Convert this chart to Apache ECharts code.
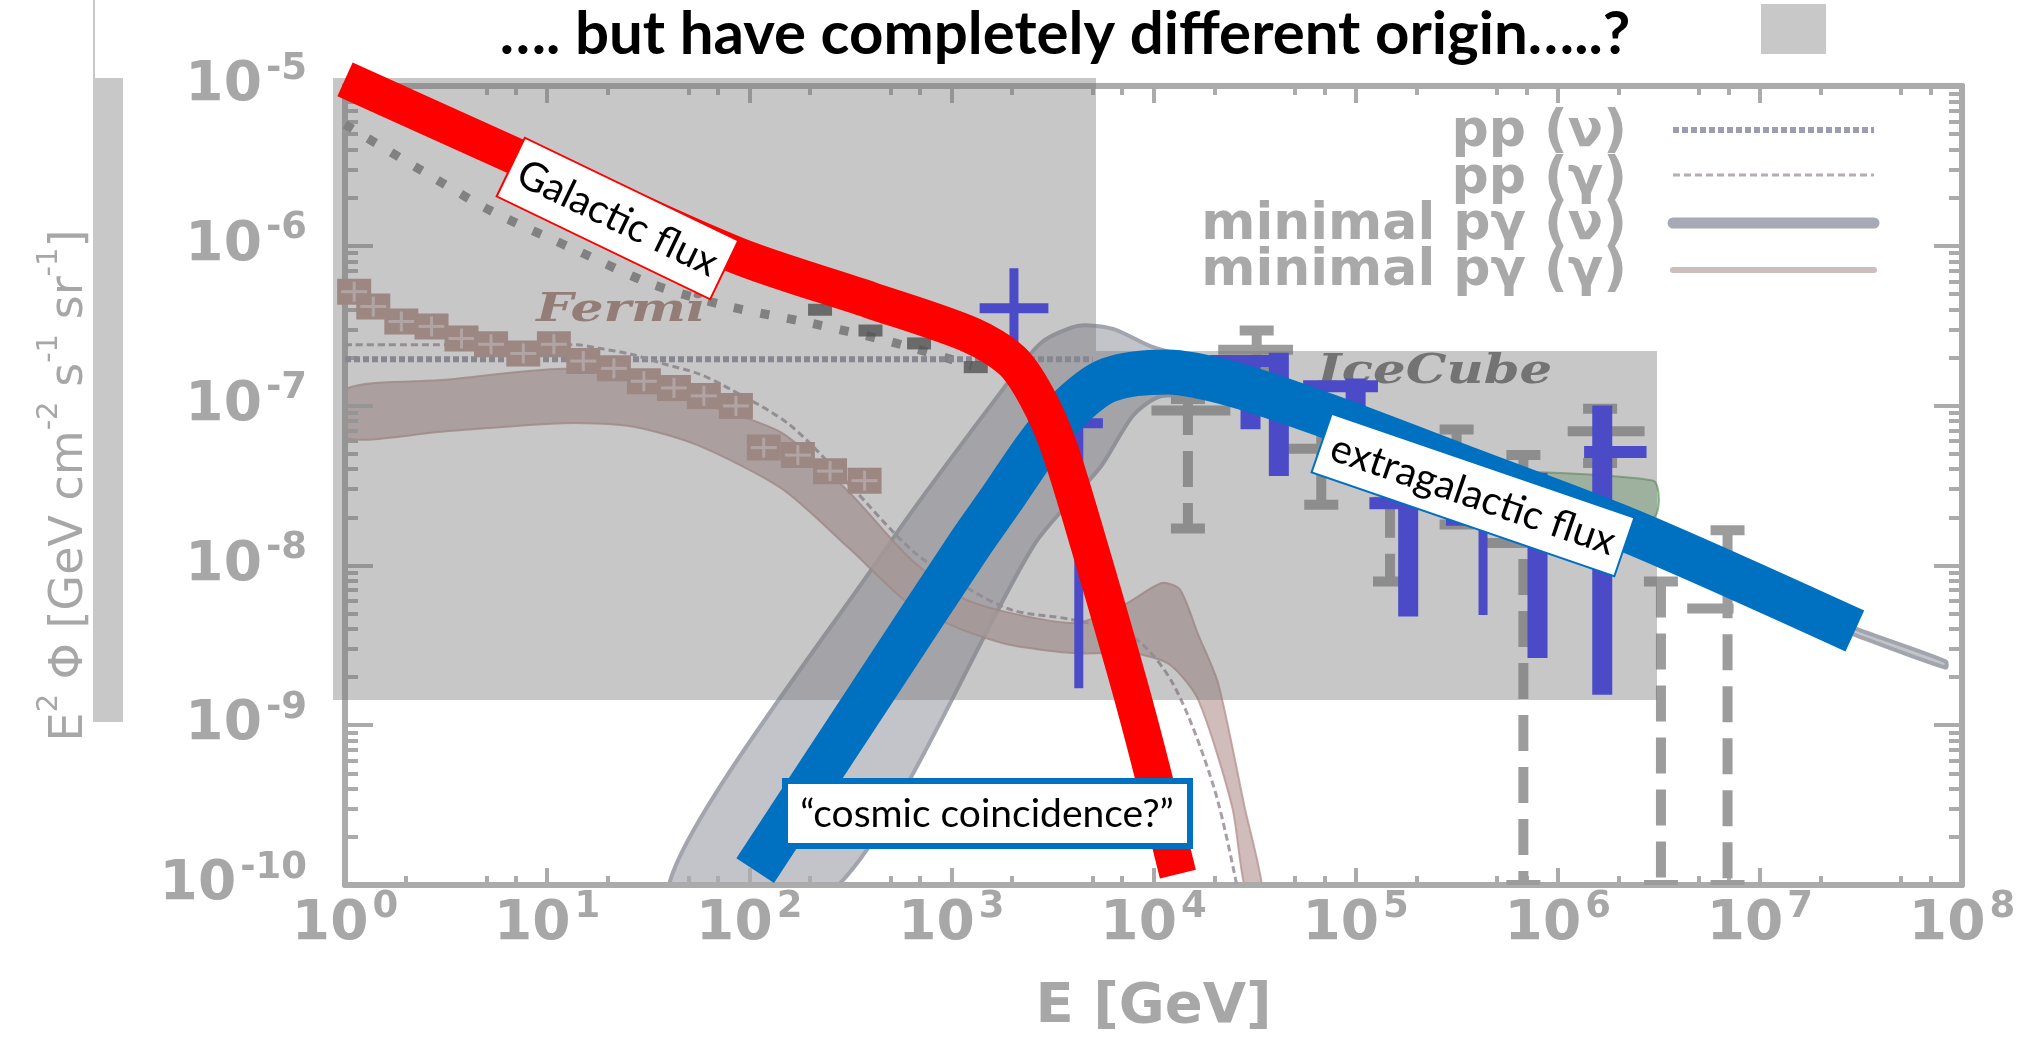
<!DOCTYPE html>
<html><head><meta charset="utf-8">
<script src="https://cdn.jsdelivr.net/npm/echarts@6/dist/echarts.min.js"></script>
<style>html,body{margin:0;padding:0;background:#fff}#c{width:2033px;height:1040px}</style>
</head><body><div id="c"></div>
<script>
// ================= DATA =================
const titleText = '…. but have completely different origin…..?';
const xTickValues = [1, 10, 100, 1e3, 1e4, 1e5, 1e6, 1e7, 1e8];
const yTickValues = [1e-10, 1e-9, 1e-8, 1e-7, 1e-6, 1e-5];
const xMinorMantissas = [2, 5, 7];
const yMinorMantissas = [2, 3, 4, 5, 6, 7, 8, 9];
const legendNames = ['pp (ν)', 'pp (γ)', 'minimal pγ (ν)', 'minimal pγ (γ)'];

// thick highlight bands [E (GeV), E^2 Phi]
const galacticFlux = [[1, 1.1e-5], [10, 2.95e-6], [87, 8.7e-7], [398, 4.57e-7], [1260, 2.75e-7], [2000, 1.9e-7],
  [2630, 1.15e-7], [3390, 5.6e-8], [4790, 1.35e-8], [8320, 1.17e-9], [13200, 1.17e-10]];
const extragalacticFlux = [[107, 1.23e-10], [398, 1.55e-9], [1230, 1.35e-8], [1780, 2.63e-8], [2690, 5.62e-8],
  [3980, 1.0e-7], [6030, 1.45e-7], [11700, 1.62e-7], [25100, 1.35e-7], [70800, 8.7e-8], [3.47e5, 4.07e-8],
  [2.34e6, 1.62e-8], [2.95e7, 3.89e-9]];

// minimal p-gamma (nu) band
const pgNuUpper = [[39.8, 9.5e-11], [490, 1.35e-8], [2000, 1.51e-7], [2820, 2.51e-7], [4270, 3.16e-7], [6310, 3.02e-7],
  [9770, 2.34e-7], [25100, 1.66e-7], [1.0e5, 7.94e-8], [1.0e6, 2.51e-8], [1.0e7, 7.08e-9], [2.75e7, 4.17e-9], [8.3e7, 2.51e-9]];
const pgNuLower = [[265, 9.5e-11], [2570, 1.35e-8], [5500, 4.17e-8], [7940, 8.7e-8], [11000, 1.15e-7], [25100, 1.05e-7],
  [70800, 6.6e-8], [3.16e5, 3.31e-8], [3.16e6, 1.07e-8], [2.75e7, 3.8e-9], [8.3e7, 2.29e-9]];
// minimal p-gamma (gamma) band
const pgGammaUpper = [[1, 1.26e-7], [3.16, 1.45e-7], [12, 1.7e-7], [26.3, 1.48e-7], [56.2, 1.05e-7], [145, 6.76e-8],
  [316, 2.82e-8], [617, 1.12e-8], [1120, 6.31e-9], [2000, 5.01e-9], [4170, 4.37e-9], [7080, 5.62e-9], [11000, 7.76e-9],
  [13500, 7.08e-9], [16600, 3.72e-9], [20900, 1.82e-9], [28200, 3.09e-10], [34700, 8.9e-11]];
const pgGammaLower = [[1, 6.31e-8], [3.16, 6.92e-8], [12, 7.76e-8], [26.3, 7.41e-8], [56.2, 5.62e-8], [145, 3.02e-8],
  [316, 1.26e-8], [617, 5.75e-9], [1120, 3.98e-9], [2000, 3.16e-9], [4170, 2.82e-9], [7940, 2.82e-9], [12000, 2.4e-9],
  [16600, 1.45e-9], [24500, 3.09e-10], [28800, 8.9e-11]];

// pp curves
const ppNuSteep = [[1, 5.75e-6], [2.4, 2.95e-6], [5.25, 1.66e-6], [14.1, 9.33e-7], [33.1, 5.75e-7], [79.4, 4.17e-7],
  [195, 3.31e-7], [501, 2.51e-7], [1260, 1.78e-7]];
const ppNuFlat = [[1, 1.95e-7], [5000, 1.95e-7]];
const ppGamma = [[1, 2.4e-7], [14.1, 2.4e-7], [17.8, 2.29e-7], [26.3, 2.09e-7], [38, 1.82e-7], [56.2, 1.58e-7],
  [81.3, 1.26e-7], [158, 7.6e-8], [316, 3.16e-8], [631, 1.26e-8], [1120, 7.6e-9], [2000, 5.25e-9], [3980, 4.57e-9],
  [7940, 3.55e-9], [12600, 1.78e-9], [20000, 4.0e-10], [26300, 8.9e-11]];

// Fermi diffuse gamma points
const fermiPoints = [[1.11, 5.16e-7], [1.38, 4.17e-7], [1.9, 3.36e-7], [2.68, 3.13e-7], [3.77, 2.63e-7], [5.28, 2.42e-7],
  [7.62, 2.12e-7], [10.8, 2.42e-7], [15.1, 1.9e-7], [21.4, 1.71e-7], [30.1, 1.42e-7], [42.4, 1.29e-7], [59.6, 1.15e-7],
  [85.9, 9.95e-8], [118, 5.46e-8], [174, 4.9e-8], [251, 3.89e-8], [372, 3.39e-8]];
const darkPoints = [[224, 3.98e-7], [398, 2.95e-7], [692, 2.45e-7], [1320, 1.74e-7]];

// IceCube: [E, flux, fluxLow, fluxHigh, Elow, Ehigh]
const icecubeBlueThin = [[2040, 4.07e-7, 2.04e-7, 7.24e-7, 1380, 3020], [4270, 7.76e-8, 1.7e-9, 1.32e-7, 3390, 5620],
  [4.27e5, 1.9e-8, 4.9e-9, 2.5e-8, 2.8e5, 6.3e5]];
const icecubeBlueThick = [[4.17e4, 1.9e-7, 3.63e-8, 2.14e-7, 1.9e4, 4.57e4], [3.02e4, 1.1e-7, 7.1e-8, 1.78e-7, 3.02e4, 3.02e4],
  [1.0e5, 1.32e-7, 7.94e-8, 1.48e-7, 5.5e4, 1.29e5], [1.82e5, 2.45e-8, 4.79e-9, 2.6e-8, 1.17e5, 2.4e5],
  [7.94e5, 3.8e-8, 2.63e-9, 3.8e-8, 7.94e5, 7.94e5], [1.66e6, 5.13e-8, 1.55e-9, 1.0e-7, 1.35e6, 2.75e6]];
const icecubeGrey = [[14800, 9.33e-8, 1.7e-8, 1.1e-7, 9770, 24000], [32400, 2.24e-7, 1.7e-7, 2.95e-7, 20900, 49000],
  [67600, 5.37e-8, 2.4e-8, 7.94e-8, 45700, 67600], [1.48e5, 2.5e-8, 7.94e-9, 2.5e-8, 1.48e5, 1.48e5],
  [3.16e5, 3.5e-8, 1.8e-8, 7.08e-8, 2.2e5, 4.3e5], [1.62e6, 6.92e-8, 4.37e-8, 9.55e-8, 1.12e6, 2.69e6],
  [6.76e5, 1.38e-8, 1e-10, 4.9e-8, 4.27e5, 7.08e5], [3.24e6, 7.94e-9, 1e-10, 7.94e-9, 3.24e6, 3.24e6],
  [6.92e6, 5.37e-9, 1e-10, 1.66e-8, 4.37e6, 7.41e6]];
const greenUpper = [[75900, 4.0e-8], [2.95e6, 3.4e-8]];
const greenLower = [[75900, 3.55e-8], [2.95e6, 2.0e-8]];

// ================= STYLE / BUILD =================
const AX = '#ababab', LAB = '#a7a7a7';
const xMinor = [], yMinor = [];
for (let d = 0; d < 8; d++) xMinorMantissas.forEach(m => xMinor.push(m * Math.pow(10, d)));
for (let d = -10; d < -5; d++) yMinorMantissas.forEach(m => yMinor.push(m * Math.pow(10, d)));

const expFmt = v => '{b|10}{s|' + Math.round(Math.log10(v)) + '}';
const richLab = {
  b: {fontFamily: 'DejaVu Sans', fontWeight: 'bold', fontSize: 55, color: LAB, padding: [8, 0, 8, 0]},
  s: {fontFamily: 'DejaVu Sans', fontWeight: 'bold', fontSize: 37, color: LAB, verticalAlign: 'top', padding: [0, 0, 0, 4]}
};
function mkAxis(kind, pos, values, len, main) {
  return {
    type: 'log', logBase: 10, position: pos, z: 3,
    min: kind === 'x' ? 1 : 1e-10, max: kind === 'x' ? 1e8 : 1e-5,
    axisLine: {show: main, onZero: false, lineStyle: {color: AX, width: 6}},
    axisTick: {show: true, inside: true, length: len, customValues: values, lineStyle: {color: AX, width: 4}},
    axisLabel: {show: false}, splitLine: {show: false}, minorTick: {show: false}
  };
}
const xAxes = [mkAxis('x', 'bottom', xTickValues, 17, true), mkAxis('x', 'bottom', xMinor, 9, false),
  mkAxis('x', 'top', xTickValues, 17, true), mkAxis('x', 'top', xMinor, 9, false)];
const yAxes = [mkAxis('y', 'left', yTickValues, 28, true), mkAxis('y', 'left', yMinor, 13, false),
  mkAxis('y', 'right', yTickValues, 28, true), mkAxis('y', 'right', yMinor, 13, false)];
xAxes[0].axisLabel = {show: true, customValues: xTickValues, formatter: expFmt, rich: richLab, margin: 4};
xAxes[0].name = 'E [GeV]';
xAxes[0].nameLocation = 'middle';
xAxes[0].nameGap = 94;
xAxes[0].nameTextStyle = {fontFamily: 'DejaVu Sans', fontWeight: 'bold', fontSize: 56, color: LAB};
yAxes[0].axisLabel = {show: true, customValues: yTickValues, formatter: expFmt, rich: richLab, margin: 38};
yAxes[0].name = '{m|E}{s|2}{m| Φ [GeV cm}{s|-2}{m| s}{s|-1}{m| sr}{s|-1}{m|]}';
yAxes[0].nameLocation = 'middle';
yAxes[0].nameRotate = 90;
yAxes[0].nameGap = 252;
yAxes[0].nameTextStyle = {rich: {
  m: {fontFamily: 'DejaVu Sans', fontSize: 46, color: LAB, padding: [12, 0, 0, 0]},
  s: {fontFamily: 'DejaVu Sans', fontSize: 29, color: LAB, verticalAlign: 'top'}
}};

function bandSeries(name, upper, lower, fill, stroke, lw, z, opacity) {
  return {
    type: 'custom', name, coordinateSystem: 'cartesian2d', clip: true, z, silent: true,
    data: upper,
    renderItem(params, api) {
      if (params.dataIndex !== 0) return null;
      const pts = upper.map(p => api.coord(p)).concat(lower.slice().reverse().map(p => api.coord(p)));
      return {type: 'polygon', shape: {points: pts, smooth: 0.25},
        style: {fill, stroke, lineWidth: lw, opacity: opacity || 1}};
    }
  };
}
function crossSeries(name, data, o) {
  return {
    type: 'custom', name, coordinateSystem: 'cartesian2d', clip: true, z: o.z, silent: true,
    encode: {x: 0, y: 1}, data,
    renderItem(params, api) {
      const E = api.value(0), F = api.value(1), lo = api.value(2), hi = api.value(3), el = api.value(4), eh = api.value(5);
      const c = api.coord([E, F]), t = api.coord([E, hi]), b = api.coord([E, lo]), l = api.coord([el, F]), r = api.coord([eh, F]);
      const ch = [{type: 'line', shape: {x1: c[0], y1: t[1], x2: c[0], y2: b[1]},
        style: {stroke: o.color, lineWidth: o.vw, lineDash: o.dash || null}}];
      if (r[0] - l[0] > 2) ch.push({type: 'line', shape: {x1: l[0], y1: c[1], x2: r[0], y2: c[1]},
        style: {stroke: o.color, lineWidth: o.hw}});
      if (o.cap) {
        [t[1], b[1]].forEach(yy => ch.push({type: 'line', shape: {x1: c[0] - o.cap, y1: yy, x2: c[0] + o.cap, y2: yy},
          style: {stroke: o.color, lineWidth: o.hw}}));
      }
      return {type: 'group', children: ch};
    }
  };
}
const FERMI = '#b8928c', FERMI_L = '#d8c6c3';
const series = [
  bandSeries('minimal pγ (ν)', pgNuUpper, pgNuLower, '#c3c4ca', '#a2a5ae', 4, 2),
  bandSeries('minimal pγ (γ)', pgGammaUpper, pgGammaLower, '#c6aeac', '#b99592', 2, 3, 0.82),
  bandSeries('green', greenUpper, greenLower, 'rgba(80,160,80,0.40)', 'rgba(70,140,70,0.6)', 2, 3),
  {type: 'line', name: 'pp (ν) steep', data: ppNuSteep, symbol: 'none', smooth: 0.3, z: 4, silent: true,
    lineStyle: {color: '#888888', width: 9, type: [9, 18]}},
  {type: 'line', name: 'pp (ν)', data: ppNuFlat, symbol: 'none', z: 4, silent: true,
    lineStyle: {color: '#9393a6', width: 6, type: [6, 3]}},
  {type: 'line', name: 'pp (γ)', data: ppGamma, symbol: 'none', smooth: 0.3, z: 4, silent: true,
    lineStyle: {color: '#a89ea8', width: 3, type: [7, 4]}},
  {type: 'custom', name: 'Fermi', coordinateSystem: 'cartesian2d', z: 5, silent: true, data: fermiPoints,
    renderItem(params, api) {
      const p = api.coord([api.value(0), api.value(1)]);
      return {type: 'group', children: [
        {type: 'rect', shape: {x: p[0] - 17, y: p[1] - 13, width: 34, height: 26}, style: {fill: FERMI}},
        {type: 'line', shape: {x1: p[0], y1: p[1] - 10, x2: p[0], y2: p[1] + 10}, style: {stroke: FERMI_L, lineWidth: 3}},
        {type: 'line', shape: {x1: p[0] - 13, y1: p[1], x2: p[0] + 13, y2: p[1]}, style: {stroke: FERMI_L, lineWidth: 3}}
      ]};
    }},
  {type: 'scatter', name: 'dark', data: darkPoints, symbol: 'rect', symbolSize: [24, 12], z: 5, silent: true,
    itemStyle: {color: '#3a3a3a'}},
  crossSeries('IceCube grey', icecubeGrey, {z: 5, color: '#9c9c9c', vw: 10, hw: 10, cap: 17, dash: [36, 16]}),
  crossSeries('IceCube thin', icecubeBlueThin, {z: 12, color: '#4b4bc8', vw: 9, hw: 10}),
  crossSeries('IceCube thick', icecubeBlueThick, {z: 12, color: '#4b4bc8', vw: 20, hw: 12}),
  {type: 'line', name: 'extragalactic flux', data: extragalacticFlux, symbol: 'none', smooth: 0.3, clip: false, z: 15,
    silent: true, lineStyle: {color: '#0070c0', width: 45, cap: 'butt', join: 'round'}},
  {type: 'line', name: 'Galactic flux', data: galacticFlux, symbol: 'none', smooth: 0.3, clip: false, z: 16,
    silent: true, lineStyle: {color: '#ff0000', width: 37, cap: 'butt', join: 'round'}}
];

// slide decorations (overlay boxes, legend, labels)
const legendY = [[132, 130], [179, 175], [225, 223], [271, 270]];
const legendLine = [
  {stroke: '#9d9db0', lineWidth: 6, lineDash: [6, 3]},
  {stroke: '#b5acb5', lineWidth: 3, lineDash: [7, 4]},
  {stroke: '#a7aab6', lineWidth: 11, lineCap: 'round'},
  {stroke: '#cdbdbd', lineWidth: 6, lineCap: 'round'}
];
const graphic = [
  {type: 'rect', z: 1, shape: {x: 93, y: 78, width: 30, height: 644}, style: {fill: '#c8c8c8'}},
  {type: 'line', z: 1, shape: {x1: 94, y1: 0, x2: 94, y2: 78}, style: {stroke: '#c8c8c8', lineWidth: 2}},
  {type: 'rect', z: 1, shape: {x: 1761, y: 4, width: 65, height: 50}, style: {fill: '#c8c8c8'}},
  {type: 'text', z: 6, x: 621, y: 311, scaleX: 1.3,
    style: {text: 'Fermi', fill: '#ab8178', font: 'italic bold 40px "DejaVu Serif"', align: 'center', verticalAlign: 'middle'}},
  {type: 'text', z: 6, x: 1435, y: 372, scaleX: 1.25,
    style: {text: 'IceCube', fill: '#707070', font: 'italic bold 41px "DejaVu Serif"', align: 'center', verticalAlign: 'middle'}},
  {type: 'rect', z: 10, shape: {x: 333, y: 78, width: 763, height: 622}, style: {fill: 'rgba(120,120,120,0.41)'}},
  {type: 'rect', z: 10, shape: {x: 1096, y: 351, width: 561, height: 349}, style: {fill: 'rgba(120,120,120,0.41)'}},
  {type: 'text', z: 30, x: 1065, y: 35,
    style: {text: titleText, fill: '#000', font: 'bold 60px Lato', align: 'center', verticalAlign: 'middle'}},
  {type: 'group', z: 30, x: 617.5, y: 218.5, rotation: -0.449, children: [
    {type: 'rect', z: 30, shape: {x: -118.5, y: -32.5, width: 237, height: 65}, style: {fill: '#fff', stroke: '#ff0000', lineWidth: 2}},
    {type: 'text', z: 31, x: 0, y: 0, style: {text: 'Galactic flux', fill: '#000', font: '40px Lato', align: 'center', verticalAlign: 'middle'}}
  ]},
  {type: 'group', z: 30, x: 1473, y: 495, rotation: -0.330, children: [
    {type: 'rect', z: 30, shape: {x: -160, y: -31, width: 320, height: 62}, style: {fill: '#fff', stroke: '#0070c0', lineWidth: 2}},
    {type: 'text', z: 31, x: 0, y: 0, style: {text: 'extragalactic flux', fill: '#000', font: '40px Lato', align: 'center', verticalAlign: 'middle'}}
  ]},
  {type: 'rect', z: 30, shape: {x: 785, y: 781, width: 405, height: 65}, style: {fill: '#fff', stroke: '#0070c0', lineWidth: 6}},
  {type: 'text', z: 31, x: 987, y: 814,
    style: {text: '“cosmic coincidence?”', fill: '#000', font: '39px Lato', align: 'center', verticalAlign: 'middle'}}
];
legendNames.forEach((n, i) => {
  graphic.push({type: 'text', z: 6, x: 1627, y: legendY[i][0],
    style: {text: n, fill: '#a9a9a9', font: 'bold 52px "DejaVu Sans"', align: 'right', verticalAlign: 'middle'}});
  graphic.push({type: 'line', z: 6, shape: {x1: 1673, y1: legendY[i][1], x2: 1874, y2: legendY[i][1]},
    style: Object.assign({}, legendLine[i])});
});

const chart = echarts.init(document.getElementById('c'));
chart.setOption({
  animation: false,
  backgroundColor: '#fff',
  grid: {left: 345, right: 71, top: 86, bottom: 150},
  xAxis: xAxes, yAxis: yAxes,
  series, graphic
});
</script></body></html>
